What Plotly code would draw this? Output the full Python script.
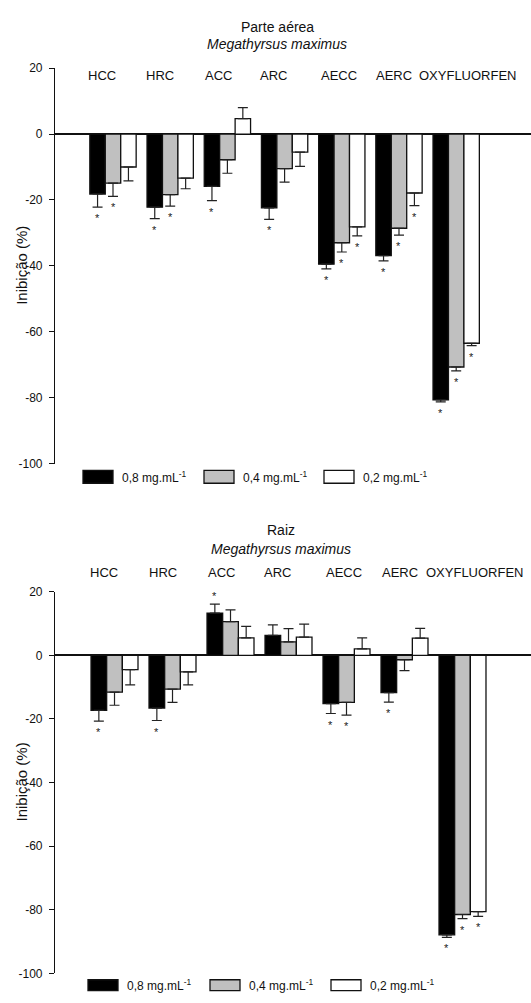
import plotly.graph_objects as go

# ---------------- data ----------------
categories = ["HCC", "HRC", "ACC", "ARC", "AECC", "AERC", "OXYFLUORFEN"]
concentrations = ["0,8 mg.mL<sup>-1</sup>", "0,4 mg.mL<sup>-1</sup>", "0,2 mg.mL<sup>-1</sup>"]

# Parte aérea
aerea_08 = [-18.2, -22.2, -15.9, -22.4, -39.5, -36.9, -80.7]
aerea_08_err = [4.0, 3.5, 4.3, 3.5, 1.4, 1.6, 0.6]
aerea_08_sig = [1, 1, 1, 1, 1, 1, 1]
aerea_04 = [-14.9, -18.4, -7.8, -10.5, -33.0, -28.6, -70.7]
aerea_04_err = [4.0, 3.5, 4.1, 4.1, 2.8, 2.1, 1.2]
aerea_04_sig = [1, 1, 0, 0, 1, 1, 1]
aerea_02 = [-10.0, -13.4, 4.7, -5.5, -28.2, -17.9, -63.5]
aerea_02_err = [4.2, 3.2, 3.3, 4.3, 2.7, 3.8, 0.7]
aerea_02_sig = [0, 0, 0, 0, 1, 1, 1]

# Raiz
raiz_08 = [-17.3, -16.6, 13.3, 6.3, -15.2, -11.7, -87.9]
raiz_08_err = [3.4, 3.9, 2.8, 3.3, 3.1, 3.0, 0.8]
raiz_08_sig = [1, 1, 1, 0, 1, 1, 1]
raiz_04 = [-11.6, -10.6, 10.6, 4.2, -14.8, -1.4, -81.5]
raiz_04_err = [4.1, 4.2, 3.7, 4.2, 4.0, 3.4, 1.3]
raiz_04_sig = [0, 0, 0, 0, 1, 0, 1]
raiz_02 = [-4.5, -5.2, 5.5, 5.7, 2.0, 5.4, -80.6]
raiz_02_err = [4.8, 4.1, 3.6, 4.1, 3.5, 3.1, 1.5]
raiz_02_sig = [0, 0, 0, 0, 0, 0, 1]

yticks = [-100, -80, -60, -40, -20, 0, 20]
ytick_labels = ["-100", "-80", "-60", "-40", "-20", "0", "20"]

# ---------------- style ----------------
W, H = 531, 1003
FONT = "Liberation Sans, Arial, sans-serif"
TXT = "#111111"
fills = ["#000000", "#c0c0c0", "#ffffff"]
BW = 0.27  # bar width in category units
label_shift_px = [-11, -10, -9, -11, -3, -5, 12]

def py(px):  # pixel row -> paper y
    return 1 - px / H

def pxx(px):  # pixel column -> paper x
    return px / W

panels = [
    dict(series=[(aerea_08, aerea_08_err, aerea_08_sig),
                 (aerea_04, aerea_04_err, aerea_04_sig),
                 (aerea_02, aerea_02_err, aerea_02_sig)],
         xa="x", ya="y", dom=(463, 62), xr=[-1.014, 7.308],
         title="Parte aérea", title_y=20, sub_y=38, title_x=277, label_y=69,
         leg_y=476.5, leg_h=13, leg_boxes=[83, 204, 324], leg_w=30),
    dict(series=[(raiz_08, raiz_08_err, raiz_08_sig),
                 (raiz_04, raiz_04_err, raiz_04_sig),
                 (raiz_02, raiz_02_err, raiz_02_sig)],
         xa="x2", ya="y2", dom=(980, 593), xr=[-1.026, 7.181],
         title="Raiz", title_y=530, sub_y=550, title_x=281, label_y=574,
         leg_y=992, leg_h=11, leg_boxes=[88, 210, 331], leg_w=30),
]

fig = go.Figure()
annotations = []
shapes = []

for p in panels:
    for j, (vals, errs, sigs) in enumerate(p["series"]):
        xs = [i + (j - 1) * BW for i in range(len(categories))]
        plus = [e if v >= 0 else 0 for v, e in zip(vals, errs)]
        minus = [e if v < 0 else 0 for v, e in zip(vals, errs)]
        fig.add_trace(go.Bar(
            x=xs, y=vals, width=BW, xaxis=p["xa"], yaxis=p["ya"],
            marker=dict(color=fills[j], line=dict(color=TXT, width=1.3)),
            error_y=dict(type="data", symmetric=False, array=plus, arrayminus=minus,
                         color="#222222", thickness=1.2, width=5),
            showlegend=False, hoverinfo="skip",
        ))
        for x, v, e, s in zip(xs, vals, errs, sigs):
            if s:
                end = v + e if v >= 0 else v - e
                annotations.append(dict(
                    x=x, y=end, xref=p["xa"], yref=p["ya"], text="*", showarrow=False,
                    yanchor="middle", yshift=(8 if v >= 0 else -11),
                    font=dict(family=FONT, size=11, color="#222222")))
    # category labels
    for i, c in enumerate(categories):
        annotations.append(dict(
            x=i, y=py(p["label_y"]), xref=p["xa"], yref="paper", text=c,
            showarrow=False, xanchor="center", yanchor="middle",
            xshift=label_shift_px[i], font=dict(family=FONT, size=13, color=TXT)))
    # titles
    annotations.append(dict(x=pxx(p["title_x"]), y=py(p["title_y"]), xref="paper", yref="paper",
                            text=p["title"], showarrow=False, xanchor="center", yanchor="middle",
                            font=dict(family=FONT, size=14, color=TXT)))
    annotations.append(dict(x=pxx(p["title_x"]), y=py(p["sub_y"]), xref="paper", yref="paper",
                            text="<i>Megathyrsus maximus</i>", showarrow=False,
                            xanchor="center", yanchor="middle",
                            font=dict(family=FONT, size=14, color=TXT)))
    # y-axis title
    annotations.append(dict(x=pxx(22), y=py((p["dom"][0] + p["dom"][1]) / 2), xref="paper",
                            yref="paper", text="Inibição (%)", textangle=-90, showarrow=False,
                            xanchor="center", yanchor="middle",
                            font=dict(family=FONT, size=15, color=TXT)))
    # legend
    for j, (bx, lab) in enumerate(zip(p["leg_boxes"], concentrations)):
        shapes.append(dict(type="rect", xref="paper", yref="paper",
                           x0=pxx(bx), x1=pxx(bx + p["leg_w"]),
                           y0=py(p["leg_y"] + p["leg_h"] / 2), y1=py(p["leg_y"] - p["leg_h"] / 2),
                           fillcolor=fills[j], line=dict(color=TXT, width=1.3)))
        annotations.append(dict(x=pxx(bx + p["leg_w"] + 7), y=py(p["leg_y"]), xref="paper",
                                yref="paper", text=lab, showarrow=False, xanchor="left",
                                yanchor="middle", font=dict(family=FONT, size=12, color=TXT)))

yaxis_common = dict(range=[-100, 20], tickvals=yticks, ticktext=ytick_labels,
                    ticks="outside", ticklen=5, tickcolor=TXT, showline=True,
                    linecolor=TXT, linewidth=1.2, zeroline=True, zerolinecolor=TXT,
                    zerolinewidth=1.5, showgrid=False,
                    tickfont=dict(family=FONT, size=12, color=TXT), ticklabelstandoff=4)

fig.update_layout(
    width=W, height=H, margin=dict(l=0, r=0, t=0, b=0),
    paper_bgcolor="white", plot_bgcolor="white",
    barmode="overlay", showlegend=False,
    xaxis=dict(domain=[55 / W, 1], range=panels[0]["xr"], visible=False, anchor="y", showgrid=False),
    xaxis2=dict(domain=[55 / W, 1], range=panels[1]["xr"], visible=False, anchor="y2", showgrid=False),
    yaxis=dict(domain=[py(panels[0]["dom"][0]), py(panels[0]["dom"][1])], anchor="x", **yaxis_common),
    yaxis2=dict(domain=[py(panels[1]["dom"][0]), py(panels[1]["dom"][1])], anchor="x2", **yaxis_common),
    annotations=annotations, shapes=shapes,
    font=dict(family=FONT),
)

fig.write_html(
    "out.html",
    config={"displayModeBar": False},
    post_script="document.body.style.margin='0';document.body.style.padding='0';"
                "document.body.style.overflow='hidden';",
)
